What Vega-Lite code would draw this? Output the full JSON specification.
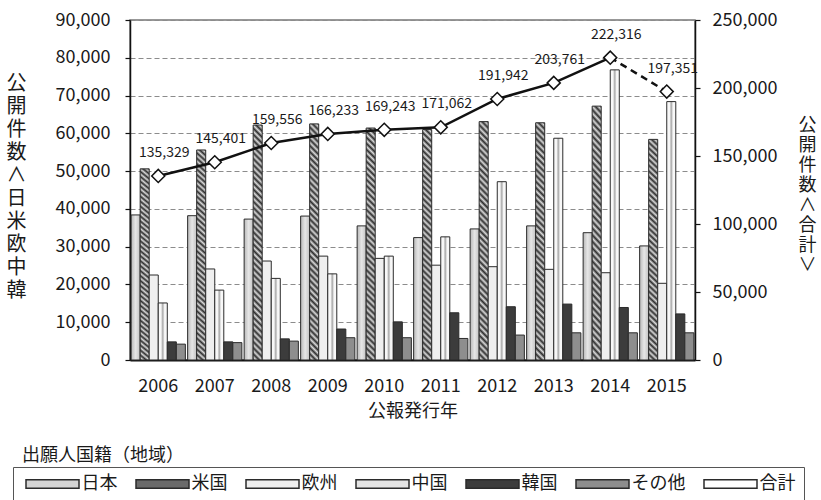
{
  "$schema": "https://vega.github.io/schema/vega-lite/v6.json",
  "width": 565,
  "height": 340,
  "autosize": {"type": "none"},
  "padding": {"left": 130, "top": 20, "right": 126, "bottom": 140},
  "background": "white",
  "config": {
    "font": "Noto Sans CJK JP",
    "view": {"stroke": "#777777", "strokeWidth": 1.5}
  },
  "title": {
    "text": "出願人国籍（地域）",
    "orient": "top",
    "anchor": "start",
    "frame": "group",
    "fontSize": 18,
    "fontWeight": "normal",
    "color": "#1a1a1a",
    "dx": -108,
    "dy": 458
  },
  "datasets": {
    "counts": [
      {"year": 2006, "series": "日本", "value": 38400},
      {"year": 2006, "series": "米国", "value": 50600},
      {"year": 2006, "series": "欧州", "value": 22500},
      {"year": 2006, "series": "中国", "value": 15100},
      {"year": 2006, "series": "韓国", "value": 4800},
      {"year": 2006, "series": "その他", "value": 4200},
      {"year": 2007, "series": "日本", "value": 38200},
      {"year": 2007, "series": "米国", "value": 55600},
      {"year": 2007, "series": "欧州", "value": 24100},
      {"year": 2007, "series": "中国", "value": 18500},
      {"year": 2007, "series": "韓国", "value": 4800},
      {"year": 2007, "series": "その他", "value": 4600},
      {"year": 2008, "series": "日本", "value": 37300},
      {"year": 2008, "series": "米国", "value": 62200},
      {"year": 2008, "series": "欧州", "value": 26200},
      {"year": 2008, "series": "中国", "value": 21600},
      {"year": 2008, "series": "韓国", "value": 5600},
      {"year": 2008, "series": "その他", "value": 5000},
      {"year": 2009, "series": "日本", "value": 38100},
      {"year": 2009, "series": "米国", "value": 62500},
      {"year": 2009, "series": "欧州", "value": 27500},
      {"year": 2009, "series": "中国", "value": 22800},
      {"year": 2009, "series": "韓国", "value": 8200},
      {"year": 2009, "series": "その他", "value": 5900},
      {"year": 2010, "series": "日本", "value": 35500},
      {"year": 2010, "series": "米国", "value": 61400},
      {"year": 2010, "series": "欧州", "value": 26900},
      {"year": 2010, "series": "中国", "value": 27500},
      {"year": 2010, "series": "韓国", "value": 10100},
      {"year": 2010, "series": "その他", "value": 5900},
      {"year": 2011, "series": "日本", "value": 32400},
      {"year": 2011, "series": "米国", "value": 61000},
      {"year": 2011, "series": "欧州", "value": 25100},
      {"year": 2011, "series": "中国", "value": 32600},
      {"year": 2011, "series": "韓国", "value": 12500},
      {"year": 2011, "series": "その他", "value": 5700},
      {"year": 2012, "series": "日本", "value": 34700},
      {"year": 2012, "series": "米国", "value": 63100},
      {"year": 2012, "series": "欧州", "value": 24700},
      {"year": 2012, "series": "中国", "value": 47200},
      {"year": 2012, "series": "韓国", "value": 14100},
      {"year": 2012, "series": "その他", "value": 6600},
      {"year": 2013, "series": "日本", "value": 35500},
      {"year": 2013, "series": "米国", "value": 62800},
      {"year": 2013, "series": "欧州", "value": 24000},
      {"year": 2013, "series": "中国", "value": 58700},
      {"year": 2013, "series": "韓国", "value": 14800},
      {"year": 2013, "series": "その他", "value": 7200},
      {"year": 2014, "series": "日本", "value": 33700},
      {"year": 2014, "series": "米国", "value": 67200},
      {"year": 2014, "series": "欧州", "value": 23100},
      {"year": 2014, "series": "中国", "value": 76800},
      {"year": 2014, "series": "韓国", "value": 13900},
      {"year": 2014, "series": "その他", "value": 7200},
      {"year": 2015, "series": "日本", "value": 30200},
      {"year": 2015, "series": "米国", "value": 58400},
      {"year": 2015, "series": "欧州", "value": 20300},
      {"year": 2015, "series": "中国", "value": 68400},
      {"year": 2015, "series": "韓国", "value": 12200},
      {"year": 2015, "series": "その他", "value": 7200}
    ],
    "totals": [
      {"year": 2006, "total": 135329},
      {"year": 2007, "total": 145401},
      {"year": 2008, "total": 159556},
      {"year": 2009, "total": 166233},
      {"year": 2010, "total": 169243},
      {"year": 2011, "total": 171062},
      {"year": 2012, "total": 191942},
      {"year": 2013, "total": 203761},
      {"year": 2014, "total": 222316},
      {"year": 2015, "total": 197351}
    ]
  },
  "resolve": {"scale": {"y": "independent"}},
  "encoding": {
    "x": {
      "field": "year",
      "type": "ordinal",
      "scale": {"paddingInner": 0.04, "paddingOuter": 0.02},
      "axis": {
        "labelAngle": 0,
        "labelFontSize": 18,
        "labelColor": "#1a1a1a",
        "labelPadding": 17,
        "ticks": false,
        "domainColor": "#111111",
        "domainWidth": 2,
        "title": "公報発行年",
        "titleFontSize": 18,
        "titleFontWeight": "normal",
        "titleColor": "#1a1a1a",
        "titleBaseline": "middle",
        "titleY": 51
      }
    }
  },
  "layer": [
    {
      "data": {"name": "counts"},
      "mark": {"type": "bar", "stroke": "#2b2b2b", "strokeWidth": 1},
      "encoding": {
        "xOffset": {
          "field": "series",
          "type": "nominal",
          "sort": null,
          "scale": {"domain": ["日本", "米国", "欧州", "中国", "韓国", "その他"], "paddingInner": 0, "paddingOuter": 0}
        },
        "y": {
          "field": "value",
          "type": "quantitative",
          "scale": {"domain": [0, 90000], "nice": false},
          "axis": {
            "orient": "left",
            "values": [0, 10000, 20000, 30000, 40000, 50000, 60000, 70000, 80000, 90000],
            "format": ",d",
            "grid": true,
            "gridDash": [5, 3],
            "gridColor": "#8c8c8c",
            "gridWidth": 1.2,
            "domainColor": "#111111",
            "domainWidth": 1.5,
            "tickColor": "#111111",
            "tickSize": 5,
            "tickWidth": 1.2,
            "labelFontSize": 18,
            "labelColor": "#1a1a1a",
            "labelPadding": 15,
            "title": ["公", "開", "件", "数", "∧", "日", "米", "欧", "中", "韓"],
            "titleAngle": 0,
            "titleFontSize": 20,
            "titleFontWeight": "normal",
            "titleColor": "#1a1a1a",
            "titleLineHeight": 23,
            "titleAlign": "center",
            "titleBaseline": "middle",
            "titleX": -114,
            "titleY": 63
          }
        },
        "fill": {
          "field": "series",
          "type": "nominal",
          "scale": {
            "domain": ["日本", "米国", "欧州", "中国", "韓国", "その他", "合計"],
            "range": ["#d4d4d4", "#6a6a6a", "#efefef", "#e4e4e4", "#3c3c3c", "#8e8e8e", "#ffffff"]
          },
          "condition": [
            {"test": "datum.series === '日本'", "value": {"gradient": "linear", "x1": 0, "y1": 0, "x2": 1, "y2": 0, "stops": [{"offset": 0, "color": "#b8b8b8"}, {"offset": 0.5, "color": "#e6e6e6"}, {"offset": 1, "color": "#c2c2c2"}]}},
            {"test": "datum.series === '米国'", "value": {"gradient": "linear", "x1": 0, "y1": 1, "x2": 0.0398, "y2": -0.0368, "stops": [
              {"offset": 0, "color": "#2e2e2e"}, {"offset": 0.0125, "color": "#d9d9d9"}, {"offset": 0.025, "color": "#2e2e2e"}, {"offset": 0.0375, "color": "#d9d9d9"},
              {"offset": 0.05, "color": "#2e2e2e"}, {"offset": 0.0625, "color": "#d9d9d9"}, {"offset": 0.075, "color": "#2e2e2e"}, {"offset": 0.0875, "color": "#d9d9d9"},
              {"offset": 0.1, "color": "#2e2e2e"}, {"offset": 0.1125, "color": "#d9d9d9"}, {"offset": 0.125, "color": "#2e2e2e"}, {"offset": 0.1375, "color": "#d9d9d9"},
              {"offset": 0.15, "color": "#2e2e2e"}, {"offset": 0.1625, "color": "#d9d9d9"}, {"offset": 0.175, "color": "#2e2e2e"}, {"offset": 0.1875, "color": "#d9d9d9"},
              {"offset": 0.2, "color": "#2e2e2e"}, {"offset": 0.2125, "color": "#d9d9d9"}, {"offset": 0.225, "color": "#2e2e2e"}, {"offset": 0.2375, "color": "#d9d9d9"},
              {"offset": 0.25, "color": "#2e2e2e"}, {"offset": 0.2625, "color": "#d9d9d9"}, {"offset": 0.275, "color": "#2e2e2e"}, {"offset": 0.2875, "color": "#d9d9d9"},
              {"offset": 0.3, "color": "#2e2e2e"}, {"offset": 0.3125, "color": "#d9d9d9"}, {"offset": 0.325, "color": "#2e2e2e"}, {"offset": 0.3375, "color": "#d9d9d9"},
              {"offset": 0.35, "color": "#2e2e2e"}, {"offset": 0.3625, "color": "#d9d9d9"}, {"offset": 0.375, "color": "#2e2e2e"}, {"offset": 0.3875, "color": "#d9d9d9"},
              {"offset": 0.4, "color": "#2e2e2e"}, {"offset": 0.4125, "color": "#d9d9d9"}, {"offset": 0.425, "color": "#2e2e2e"}, {"offset": 0.4375, "color": "#d9d9d9"},
              {"offset": 0.45, "color": "#2e2e2e"}, {"offset": 0.4625, "color": "#d9d9d9"}, {"offset": 0.475, "color": "#2e2e2e"}, {"offset": 0.4875, "color": "#d9d9d9"},
              {"offset": 0.5, "color": "#2e2e2e"}, {"offset": 0.5125, "color": "#d9d9d9"}, {"offset": 0.525, "color": "#2e2e2e"}, {"offset": 0.5375, "color": "#d9d9d9"},
              {"offset": 0.55, "color": "#2e2e2e"}, {"offset": 0.5625, "color": "#d9d9d9"}, {"offset": 0.575, "color": "#2e2e2e"}, {"offset": 0.5875, "color": "#d9d9d9"},
              {"offset": 0.6, "color": "#2e2e2e"}, {"offset": 0.6125, "color": "#d9d9d9"}, {"offset": 0.625, "color": "#2e2e2e"}, {"offset": 0.6375, "color": "#d9d9d9"},
              {"offset": 0.65, "color": "#2e2e2e"}, {"offset": 0.6625, "color": "#d9d9d9"}, {"offset": 0.675, "color": "#2e2e2e"}, {"offset": 0.6875, "color": "#d9d9d9"},
              {"offset": 0.7, "color": "#2e2e2e"}, {"offset": 0.7125, "color": "#d9d9d9"}, {"offset": 0.725, "color": "#2e2e2e"}, {"offset": 0.7375, "color": "#d9d9d9"},
              {"offset": 0.75, "color": "#2e2e2e"}, {"offset": 0.7625, "color": "#d9d9d9"}, {"offset": 0.775, "color": "#2e2e2e"}, {"offset": 0.7875, "color": "#d9d9d9"},
              {"offset": 0.8, "color": "#2e2e2e"}, {"offset": 0.8125, "color": "#d9d9d9"}, {"offset": 0.825, "color": "#2e2e2e"}, {"offset": 0.8375, "color": "#d9d9d9"},
              {"offset": 0.85, "color": "#2e2e2e"}, {"offset": 0.8625, "color": "#d9d9d9"}, {"offset": 0.875, "color": "#2e2e2e"}, {"offset": 0.8875, "color": "#d9d9d9"},
              {"offset": 0.9, "color": "#2e2e2e"}, {"offset": 0.9125, "color": "#d9d9d9"}, {"offset": 0.925, "color": "#2e2e2e"}, {"offset": 0.9375, "color": "#d9d9d9"},
              {"offset": 0.95, "color": "#2e2e2e"}, {"offset": 0.9625, "color": "#d9d9d9"}, {"offset": 0.975, "color": "#2e2e2e"}, {"offset": 0.9875, "color": "#d9d9d9"},
              {"offset": 1, "color": "#2e2e2e"}
            ]}},
            {"test": "datum.series === '欧州'", "value": "#efefef"},
            {"test": "datum.series === '中国'", "value": {"gradient": "linear", "x1": 0, "y1": 0, "x2": 1, "y2": 0, "stops": [{"offset": 0, "color": "#f8f8f8"}, {"offset": 0.3, "color": "#f8f8f8"}, {"offset": 0.5, "color": "#a8a8a8"}, {"offset": 0.7, "color": "#f8f8f8"}, {"offset": 1, "color": "#f8f8f8"}]}},
            {"test": "datum.series === '韓国'", "value": "#3c3c3c"},
            {"test": "datum.series === 'その他'", "value": "#8e8e8e"}
          ],
          "legend": {
            "orient": "none",
            "legendX": -117,
            "legendY": 447,
            "direction": "horizontal",
            "columns": 7,
            "title": null,
            "strokeColor": "#555555",
            "fillColor": "white",
            "padding": 8,
            "columnPadding": 13,
            "symbolOffset": 22.5,
            "labelOffset": 20,
            "labelFontSize": 18,
            "labelColor": "#1a1a1a",
            "symbolSize": 64,
            "symbolType": "M-6.625,-1.06H6.625V1.06H-6.625Z",
            "encode": {
              "symbols": {
                "shape": {"value": {"expr": "datum.value === '合計' ? 'M-6.625,0H-1.125M1.125,0H6.625M0,-1.125L1.125,0L0,1.125L-1.125,0Z' : 'M-6.625,-1.06H6.625V1.06H-6.625Z'"}},
                "stroke": {"value": {"expr": "datum.value === '合計' ? '#111111' : '#444444'"}},
                "strokeWidth": {"value": {"expr": "datum.value === '合計' ? 2 : 1"}}
              }
            }
          }
        }
      }
    },
    {
      "data": {"name": "totals"},
      "encoding": {
        "y": {
          "field": "total",
          "type": "quantitative",
          "scale": {"domain": [0, 250000], "nice": false},
          "axis": {
            "orient": "right",
            "values": [0, 50000, 100000, 150000, 200000, 250000],
            "format": ",d",
            "grid": false,
            "domainColor": "#111111",
            "domainWidth": 1.5,
            "tickColor": "#111111",
            "tickSize": 5,
            "tickWidth": 1.2,
            "labelFontSize": 18,
            "labelColor": "#1a1a1a",
            "labelPadding": 12,
            "title": ["公", "開", "件", "数", "∧", "合", "計", "∨"],
            "titleAngle": 0,
            "titleFontSize": 18,
            "titleFontWeight": "normal",
            "titleColor": "#1a1a1a",
            "titleLineHeight": 20,
            "titleAlign": "center",
            "titleBaseline": "middle",
            "titleX": 112,
            "titleY": 105
          }
        }
      },
      "layer": [
        {
          "transform": [{"filter": "datum.year <= 2014"}],
          "mark": {"type": "line", "color": "#111111", "strokeWidth": 2.5}
        },
        {
          "transform": [{"filter": "datum.year >= 2014"}],
          "mark": {"type": "line", "color": "#111111", "strokeWidth": 2.5, "strokeDash": [7, 5]}
        },
        {
          "mark": {"type": "point", "shape": "diamond", "size": 170, "filled": true, "fill": "#ffffff", "stroke": "#111111", "strokeWidth": 1.5, "opacity": 1}
        },
        {
          "mark": {"type": "text", "dx": 6, "dy": -23, "fontSize": 14, "color": "#1a1a1a"},
          "encoding": {"text": {"field": "total", "type": "quantitative", "format": ","}}
        }
      ]
    }
  ]
}
